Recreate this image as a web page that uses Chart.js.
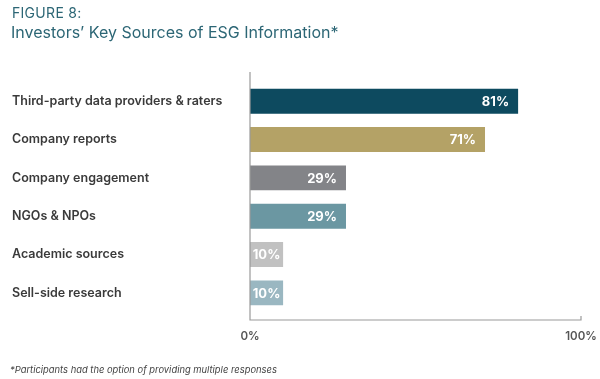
<!DOCTYPE html>
<html>
<head>
<meta charset="utf-8">
<script src="https://cdn.jsdelivr.net/npm/chart.js@4/dist/chart.umd.min.js"></script>
<style>
  html, body { margin: 0; padding: 0; background: #fff; }
  #wrap { position: relative; width: 600px; height: 379px; overflow: hidden; }
  #chart { position: absolute; left: 0; top: 0; }
  .fig { position: absolute; left: 12px; top: 4px; font-family: Inter, sans-serif; font-size: 14px; color: #2c6675; letter-spacing: 0.3px; }
  .ttl { position: absolute; left: 11px; top: 22px; font-family: Inter, sans-serif; font-size: 16px; color: #2c6675; }
  .note { position: absolute; left: 10px; top: 364px; font-family: Inter, sans-serif; font-size: 9.4px; font-style: italic; color: #444; }
</style>
</head>
<body>
<div id="wrap">
  <canvas id="chart" width="600" height="379"></canvas>
  <div class="fig">FIGURE 8:</div>
  <div class="ttl">Investors’ Key Sources of ESG Information*</div>
  <div class="note">*Participants had the option of providing multiple responses</div>
</div>
<script>
// ---- data ----
const categories = [
  "Third-party data providers & raters",
  "Company reports",
  "Company engagement",
  "NGOs & NPOs",
  "Academic sources",
  "Sell-side research"
];
const values = [81, 71, 29, 29, 10, 10];
const barColors = ["#0d4a5f", "#b4a266", "#838488", "#6b97a2", "#c1c1c1", "#9ab7c1"];
const tickValues = [0, 100];

// value labels drawn inside the bar end
const valueLabels = {
  id: "valueLabels",
  afterDatasetsDraw(chart) {
    const ctx = chart.ctx;
    const meta = chart.getDatasetMeta(0);
    ctx.save();
    ctx.font = "bold 13px Inter, sans-serif";
    ctx.fillStyle = "#fff";
    ctx.textAlign = "right";
    ctx.textBaseline = "middle";
    meta.data.forEach((bar, i) => {
      const txt = values[i] + "%";
      const w = bar.x - bar.base;
      const tw = ctx.measureText(txt).width;
      const pad = Math.max(0, Math.min(9, (w - tw) / 2));
      ctx.fillText(txt, bar.x - pad, bar.y + 1);
    });
    ctx.restore();
  }
};

// axis lines (left line runs past the plot, bottom line sits a bit lower)
const axisLines = {
  id: "axisLines",
  afterDraw(chart) {
    const ctx = chart.ctx;
    const area = chart.chartArea;
    const x = chart.scales.x;
    const x0 = x.getPixelForValue(0);
    const x1 = x.getPixelForValue(100);
    const yb = area.bottom + 8;
    ctx.save();
    ctx.strokeStyle = "#9a9a9a";
    ctx.lineWidth = 1.2;
    ctx.beginPath();
    ctx.moveTo(x0, area.top - 10);
    ctx.lineTo(x0, yb);
    ctx.lineTo(x1, yb);
    ctx.lineTo(x1, yb - 4);
    ctx.stroke();
    ctx.restore();
  }
};

new Chart(document.getElementById("chart"), {
  type: "bar",
  data: {
    labels: categories,
    datasets: [{
      data: values,
      backgroundColor: barColors,
      barPercentage: 0.65,
      categoryPercentage: 1.0
    }]
  },
  options: {
    indexAxis: "y",
    responsive: false,
    animation: false,
    layout: { padding: { left: 12, right: 19, top: 82, bottom: 27 } },
    plugins: { legend: { display: false }, tooltip: { enabled: false } },
    scales: {
      x: {
        min: 0,
        max: 100,
        afterFit(scale) {
          scale.height = 40;
          scale.paddingLeft = 0;
          scale.paddingRight = 0;
        },
        afterBuildTicks(scale) { scale.ticks = tickValues.map(v => ({ value: v })); },
        grid: { display: false, drawTicks: false },
        border: { display: false },
        ticks: {
          padding: 18,
          color: "#555",
          font: { family: "Inter, sans-serif", size: 11.5, weight: "600" },
          callback: v => v + "%"
        }
      },
      y: {
        afterFit(scale) { scale.width = 238; },
        grid: { display: false, drawTicks: false },
        border: { display: false },
        ticks: {
          crossAlign: "far",
          padding: 0,
          color: "#3a3a3a",
          font: { family: "Inter, sans-serif", size: 12.5, weight: "600" }
        }
      }
    }
  },
  plugins: [valueLabels, axisLines]
});
</script>
</body>
</html>
